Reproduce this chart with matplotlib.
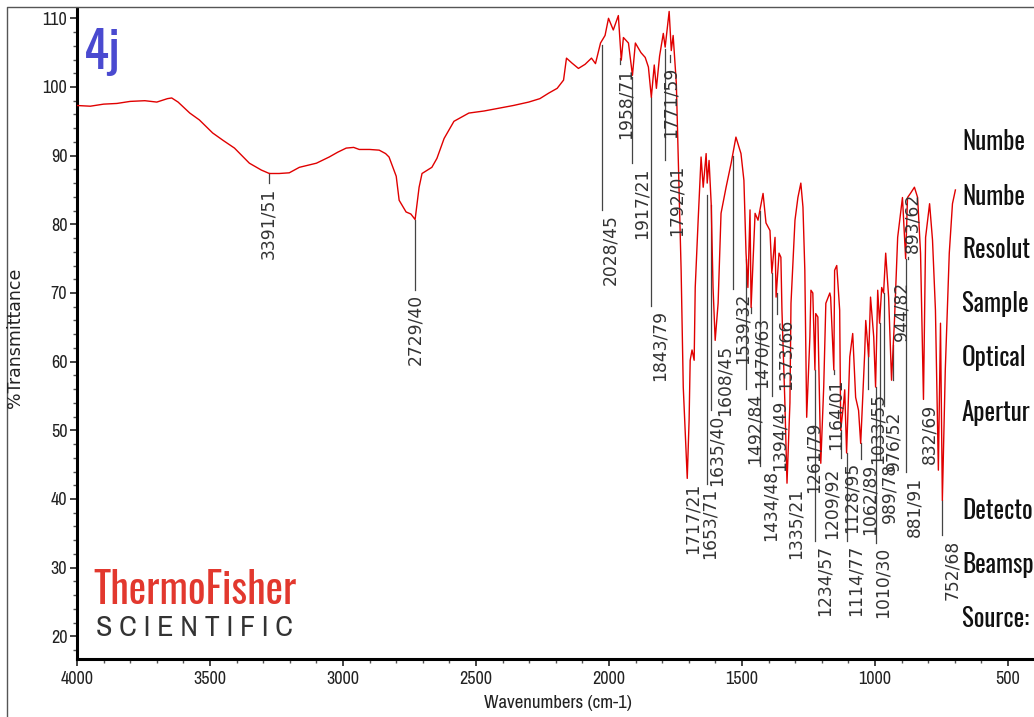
import matplotlib
matplotlib.use("Agg")
import matplotlib.pyplot as plt
from matplotlib import font_manager
from matplotlib.lines import Line2D
from matplotlib.ticker import MultipleLocator

# ---------------- data ----------------
wavenumber = [4000, 3950, 3900, 3850, 3800, 3745, 3700, 3660, 3644, 3620, 3576, 3540,
              3490, 3450, 3408, 3380, 3352, 3307, 3277, 3240, 3202, 3164, 3100, 3052,
              3020, 2988, 2960, 2939, 2900, 2864, 2840, 2827, 2800, 2789, 2763, 2745,
              2729, 2714, 2703, 2666, 2647, 2620, 2583, 2527, 2470, 2415, 2360, 2302,
              2260, 2227, 2195, 2171, 2160, 2140, 2115, 2090, 2066, 2051, 2032, 2015,
              2002, 1984, 1965, 1954, 1946, 1927, 1912, 1901, 1880, 1864, 1852, 1841,
              1830, 1822, 1810, 1796, 1789, 1774, 1766, 1759, 1747, 1736, 1729, 1721,
              1710, 1706, 1699, 1695, 1688, 1680, 1676, 1665, 1654, 1646, 1635, 1631,
              1624, 1616, 1609, 1601, 1590, 1579, 1560, 1541, 1523, 1504, 1493, 1485,
              1478, 1470, 1466, 1451, 1440, 1421, 1410, 1395, 1388, 1376, 1372, 1361,
              1354, 1350, 1339, 1331, 1320, 1316, 1301, 1290, 1279, 1271, 1264, 1257,
              1245, 1241, 1234, 1226, 1223, 1215, 1204, 1193, 1185, 1170, 1167, 1155,
              1152, 1144, 1133, 1129, 1118, 1114, 1107, 1095, 1084, 1073, 1062, 1054,
              1039, 1035, 1024, 1017, 1005, 998, 990, 983, 975, 968, 960, 949,
              938, 927, 915, 897, 885, 878, 867, 852, 840, 829, 818, 810,
              795, 784, 773, 762, 754, 747, 736, 721, 709, 698]
transmittance = [97.3, 97.2, 97.5, 97.6, 97.9, 98.0, 97.8, 98.3, 98.4, 97.8, 96.2, 95.2,
                 93.3, 92.2, 91.1, 90.0, 88.9, 87.9, 87.4, 87.4, 87.5, 88.3, 88.9, 89.8,
                 90.5, 91.1, 91.2, 90.9, 90.9, 90.8, 90.3, 89.8, 87.0, 83.5, 81.8, 81.5,
                 80.7, 85.4, 87.4, 88.3, 89.6, 92.5, 95.0, 96.2, 96.5, 96.9, 97.3, 97.8,
                 98.3, 99.1, 99.8, 101.0, 104.2, 103.5, 102.7, 103.3, 104.2, 103.4, 106.4, 107.5,
                 110.0, 108.3, 110.4, 103.9, 107.2, 106.4, 101.7, 106.4, 105.0, 104.3, 102.9, 98.5,
                 103.2, 99.8, 104.5, 107.8, 105.8, 111.0, 105.3, 107.5, 100.5, 83.5, 73.3, 56.3,
                 46.7, 43.0, 51.5, 60.2, 61.7, 60.2, 70.8, 80.6, 89.8, 85.4, 90.3, 86.0,
                 89.3, 83.0, 70.8, 63.1, 68.5, 81.6, 85.4, 88.9, 92.7, 90.3, 86.4, 75.8,
                 70.8, 82.1, 67.9, 81.6, 80.6, 84.5, 80.2, 79.1, 72.9, 78.1, 69.4, 75.8,
                 75.2, 67.5, 54.0, 42.3, 54.0, 68.5, 80.6, 83.9, 86.0, 82.5, 73.3, 51.9,
                 63.6, 70.4, 70.0, 58.8, 67.0, 66.5, 45.2, 56.3, 68.5, 70.0, 69.4, 58.8,
                 73.3, 74.0, 67.5, 50.0, 54.0, 55.9, 46.7, 60.7, 64.1, 54.8, 52.9, 48.1,
                 61.2, 66.0, 60.7, 69.4, 63.6, 56.3, 70.4, 65.6, 70.8, 70.0, 75.8, 69.4,
                 57.3, 66.0, 78.1, 83.9, 75.0, 83.9, 84.5, 85.4, 83.9, 75.8, 54.5, 78.1,
                 83.0, 77.7, 67.5, 44.2, 65.6, 39.8, 58.8, 75.8, 83.0, 85.0]

# peak labels: text, line wavenumber, line start %T, line end %T, text wavenumber, text above line
peak_labels = ["3391/51", "2729/40", "2028/45", "1958/71", "1917/21", "1843/79", "1792/01",
               "1771/59", "1717/21", "1653/71", "1635/40", "1608/45", "1539/32", "1492/84",
               "1470/63", "1434/48", "1394/49", "1373/66", "1335/21", "1261/79", "1234/57",
               "1209/92", "1164/01", "1128/95", "1114/77", "1062/89", "1033/55", "1010/30",
               "989/78", "976/52", "944/82", "893/62", "881/91", "832/69", "752/68"]
label_line_wn = [3280, 2729, 2025, 1957, 1912, 1841, 1789, 1770, 1706, 1631, 1616, 1601,
                 1534, 1485, 1466, 1433, 1388, 1369, 1331, 1257, 1226, 1204, 1155, 1129,
                 1107, 1054, 1028, 998, 983, 968, 934, 878, 882, 822, 747]
label_line_from = [87.4, 80.7, 106.1, 104.2, 101.4, 98.5, 105.6, 104.6, 43.0, 84.2, 82.8, 63.1,
                   90.0, 75.0, 67.9, 82.0, 72.9, 70.0, 42.3, 51.9, 58.8, 45.2, 58.8, 50.0,
                   46.7, 48.1, 62.0, 56.3, 65.6, 70.0, 57.3, 75.0, 75.0, 54.5, 39.8]
label_line_to = [86.0, 70.5, 82.1, 103.4, 88.9, 68.1, 89.3, 103.6, 43.0, 42.2, 52.9, 63.1,
                 70.6, 56.0, 67.1, 44.8, 55.0, 66.9, 42.3, 51.9, 33.9, 45.2, 58.2, 46.0,
                 33.9, 45.8, 56.0, 33.6, 45.8, 53.5, 62.4, 75.2, 43.9, 54.5, 34.7]
label_text_wn = [3280, 2729, 1995, 1939, 1879, 1811, 1747, 1770, 1684, 1620, 1594, 1564,
                 1496, 1451, 1425, 1391, 1358, 1335, 1298, 1230, 1189, 1163, 1150, 1088,
                 1073, 1020, 990, 972, 945, 930, 900, 859, 852, 795, 709]
label_above = [False] * 30 + [True, True, False, False, False]

# instrument info, as much of it as the (cropped) page shows
instrument_info = ["Numbe", "Numbe", "Resolut", "Sample", "Optical", "Apertur",
                   "", "Detecto", "Beamsp", "Source:"]

y_ticks = [20, 30, 40, 50, 60, 70, 80, 90, 100, 110]
x_ticks = [4000, 3500, 3000, 2500, 2000, 1500, 1000, 500]


# ---------------- fonts ----------------
available = {f.name for f in font_manager.fontManager.ttflist}


def pick(cands, default="DejaVu Sans"):
    for c in cands:
        if c in available:
            return c
    return default


narrow = pick(["Liberation Sans Narrow", "Arial Narrow", "Archivo Narrow", "PT Sans Narrow",
               "Roboto Condensed", "IBM Plex Sans Condensed", "Open Sans Condensed"],
              "Liberation Sans")
tall = pick(["Oswald", "Roboto Condensed", "Archivo Narrow", "PT Sans Narrow"], narrow)
plt.rcParams["font.family"] = [narrow, "DejaVu Sans"]

W, H = 1034, 717
fig = plt.figure(figsize=(W / 100, H / 100), dpi=100)
fig.patch.set_facecolor("white")

ax_left, ax_right, ax_top, ax_bottom = 77, 1034, 8, 659
ax = fig.add_axes([ax_left / W, 1 - ax_bottom / H, (ax_right - ax_left) / W, (ax_bottom - ax_top) / H])
ax.set_xlim(4000, 402.5)
ax.set_ylim(16.7, 111.5)

ax.plot(wavenumber, transmittance, color="#e00000", lw=1.0, zorder=3)

# peak labels
lab_font = dict(family="DejaVu Sans", size=12.3, color="#333333")
for txt, lx, lf, lt, tx, above in zip(peak_labels, label_line_wn, label_line_from,
                                       label_line_to, label_text_wn, label_above):
    if lf != lt:
        ax.plot([lx, lx], [lf, lt], color="#444444", lw=0.9, zorder=2)
    if above:
        ax.text(tx, lt + 0.6, txt, rotation=90, ha="center", va="bottom", **lab_font)
    else:
        ax.text(tx, lt - 0.6, txt, rotation=90, ha="center", va="top", **lab_font)

# axes styling
for s in ["top", "right"]:
    ax.spines[s].set_visible(False)
for s in ["left", "bottom"]:
    ax.spines[s].set_linewidth(2.2)
ax.set_yticks(y_ticks)
ax.set_xticks(x_ticks)
ax.yaxis.set_minor_locator(MultipleLocator(2))
ax.xaxis.set_minor_locator(MultipleLocator(100))
ax.tick_params(axis="both", which="major", direction="out", length=5, width=1.2,
               labelsize=13, colors="#222222")
ax.tick_params(axis="both", which="minor", direction="out", length=3, width=1.0, color="#555555")
ax.tick_params(axis="y", pad=2)
ax.tick_params(axis="x", pad=4)

fig.text(15 / W, 1 - 338 / H, "%Transmittance", rotation=90, ha="center", va="center",
         family="DejaVu Sans", fontsize=12.5, color="#222222")
fig.text(558 / W, 1 - 703 / H, "Wavenumbers (cm-1)", ha="center", va="center",
         fontsize=13.5, color="#222222")

# sample tag
fig.text(84 / W, 1 - 53 / H, "4j", ha="left", va="center", fontsize=37, color="#4a4ad0",
         family=[tall, "DejaVu Sans"], fontweight="light")

# logo
fig.text(195 / W, 1 - 590 / H, "ThermoFisher", ha="center", va="center", fontsize=30,
         fontweight="bold", color="#e2382e", family=[tall, "DejaVu Sans"])
fig.text(195 / W, 1 - 627 / H, "S C I E N T I F I C", ha="center", va="center", fontsize=21.5,
         color="#333333")

# instrument info on the right
info_y = [142, 197, 250, 304, 358, 413, 462, 511, 565, 619]
for t, yy in zip(instrument_info, info_y):
    if t:
        fig.text(962 / W, 1 - yy / H, t, ha="left", va="center", fontsize=18, color="#111111",
                 family=[tall, "DejaVu Sans"], fontweight="light")

# outer frame
fig.add_artist(Line2D([7 / W, 7 / W, 1.0], [0.0, 1 - 7 / H, 1 - 7 / H],
                      transform=fig.transFigure, color="#555555", lw=1.0))

fig.savefig("out.png", dpi=100)
